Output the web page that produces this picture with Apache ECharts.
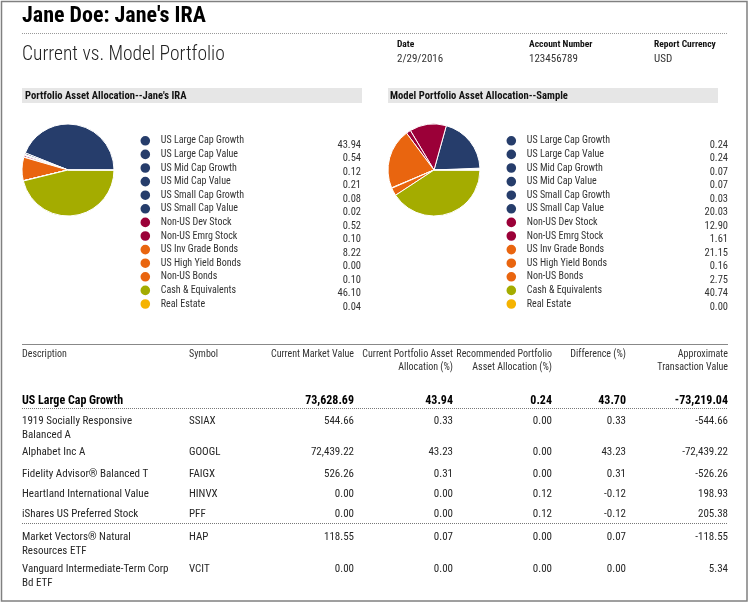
<!DOCTYPE html>
<html>
<head>
<meta charset="utf-8">
<script src="https://cdn.jsdelivr.net/npm/echarts@6/dist/echarts.min.js"></script>
<style>
  html, body { margin: 0; padding: 0; background: #fff; }
  #chart { width: 749px; height: 602px; }
</style>
</head>
<body>
<div id="chart"></div>
<script>
// ---------- data ----------
const categories = ['US Large Cap Growth','US Large Cap Value','US Mid Cap Growth','US Mid Cap Value','US Small Cap Growth','US Small Cap Value','Non-US Dev Stock','Non-US Emrg Stock','US Inv Grade Bonds','US High Yield Bonds','Non-US Bonds','Cash & Equivalents','Real Estate'];
const currentAllocation = [43.94,0.54,0.12,0.21,0.08,0.02,0.52,0.10,8.22,0.00,0.10,46.10,0.04];
const modelAllocation = [0.24,0.24,0.07,0.07,0.03,20.03,12.90,1.61,21.15,0.16,2.75,40.74,0.00];

const tableHeaders = [['Description'],['Symbol'],['Current Market Value'],['Current Portfolio Asset','Allocation (%)'],['Recommended Portfolio','Asset Allocation (%)'],['Difference (%)'],['Approximate','Transaction Value']];
const groupName = 'US Large Cap Growth';
const groupTotals = [73628.69, 43.94, 0.24, 43.70, -73219.04];
const holdingNames = [['1919 Socially Responsive','Balanced A'],['Alphabet Inc A'],['Fidelity Advisor® Balanced T'],['Heartland International Value'],['iShares US Preferred Stock'],['Market Vectors® Natural','Resources ETF'],['Vanguard Intermediate-Term Corp','Bd ETF']];
const holdingSymbols = ['SSIAX','GOOGL','FAIGX','HINVX','PFF','HAP','VCIT'];
const marketValues = [544.66, 72439.22, 526.26, 0.00, 0.00, 118.55, 0.00];
const currentPct = [0.33, 43.23, 0.31, 0.00, 0.00, 0.07, 0.00];
const recommendedPct = [0.00, 0.00, 0.00, 0.12, 0.12, 0.00, 0.00];
const differencePct = [0.33, 43.23, 0.31, -0.12, -0.12, 0.07, 0.00];
const transactionValues = [-544.66, -72439.22, -526.26, 198.93, 205.38, -118.55, 5.34];

// ---------- styles ----------
const NAVY = '#263d6b', MAROON = '#9b0038', ORANGE = '#e9650f', OLIVE = '#a4ac00', GOLD = '#f5b300';
const categoryColors = [NAVY,NAVY,NAVY,NAVY,NAVY,NAVY,MAROON,MAROON,ORANGE,ORANGE,ORANGE,OLIVE,GOLD];
const FONT = '"Roboto Condensed", "DejaVu Sans Condensed", sans-serif';
const TXT = '#262626';

const fmt = v => v.toLocaleString('en-US', {minimumFractionDigits: 2, maximumFractionDigits: 2});

function text(x, y, str, opt) {
  opt = opt || {};
  const align = opt.align || 'left';
  return {
    type: 'text', x: x, y: y, silent: true,
    style: {
      text: str, fill: opt.color || TXT,
      fontFamily: FONT, fontSize: opt.size || 12, fontWeight: opt.weight || 'normal',
      align: align, verticalAlign: 'middle', textAlign: align, textVerticalAlign: 'middle'
    }
  };
}
function line(x1, y1, x2, y2, dotted, color) {
  return {
    type: 'line', silent: true,
    shape: {x1: x1, y1: y1, x2: x2, y2: y2},
    style: {stroke: color || '#888', lineWidth: 1, lineDash: dotted ? [1, 1] : null}
  };
}

const g = [];
// frame
g.push({type: 'rect', silent: true, shape: {x: 1.5, y: 1.5, width: 745.5, height: 599.5}, style: {fill: 'none', stroke: '#808080', lineWidth: 1.5}});
// titles
g.push(text(22, 16, "Jane Doe: Jane's IRA", {size: 22, weight: 'bold', color: '#000'}));
g.push(line(22, 33.5, 728, 33.5, true, '#999'));
g.push(text(22, 55, 'Current vs. Model Portfolio', {size: 19.5, weight: 300, color: '#222'}));
// info block
const infoX = [397, 529, 654];
const infoLabels = ['Date', 'Account Number', 'Report Currency'];
const infoValues = ['2/29/2016', '123456789', 'USD'];
infoX.forEach((x, i) => {
  g.push(text(x, 45, infoLabels[i], {size: 9.5, weight: 'bold', color: '#111'}));
  g.push(text(x, 59, infoValues[i], {size: 11, color: '#333'}));
});
// section bars
g.push({type: 'rect', silent: true, shape: {x: 22, y: 88, width: 340, height: 15}, style: {fill: '#e6e6e6'}});
g.push({type: 'rect', silent: true, shape: {x: 388, y: 88, width: 330, height: 15}, style: {fill: '#e6e6e6'}});
g.push(text(25, 96, "Portfolio Asset Allocation--Jane's IRA", {size: 10.6, weight: 'bold', color: '#111'}));
g.push(text(390, 96, 'Model Portfolio Asset Allocation--Sample', {size: 10.6, weight: 'bold', color: '#111'}));
// legend values
currentAllocation.forEach((v, i) => g.push(text(361, 145 + i * 13.5, fmt(v), {size: 10.5, align: 'right', color: '#333'})));
modelAllocation.forEach((v, i) => g.push(text(728, 145 + i * 13.5, fmt(v), {size: 10.5, align: 'right', color: '#333'})));

// table
g.push(line(22, 344.5, 728, 344.5, false, '#888'));
const colX = [22, 189, 354, 453, 552, 626, 728];
const colAlign = ['left', 'left', 'right', 'right', 'right', 'right', 'right'];
tableHeaders.forEach((h, c) => h.forEach((ln, k) => g.push(text(colX[c], 354 + k * 13, ln, {size: 10, align: colAlign[c], color: '#333'}))));
g.push(text(22, 401, groupName, {size: 12, weight: 'bold', color: '#000'}));
groupTotals.forEach((v, i) => g.push(text(colX[i + 2], 401, fmt(v), {size: 12, weight: 'bold', color: '#000', align: 'right'})));
g.push(line(22, 408.5, 728, 408.5, true, '#777'));
const rowY = [421, 452, 474, 494, 514, 537, 569];
holdingNames.forEach((names, r) => {
  names.forEach((ln, k) => g.push(text(22, rowY[r] + k * 14, ln, {size: 11})));
  g.push(text(189, rowY[r], holdingSymbols[r], {size: 11}));
  [marketValues, currentPct, recommendedPct, differencePct, transactionValues].forEach((arr, c) => {
    g.push(text(colX[c + 2], rowY[r], fmt(arr[r]), {size: 11, align: 'right'}));
  });
});
g.push(line(22, 523.5, 728, 523.5, true, '#777'));

function pieData(values) {
  return categories.map((n, i) => ({name: n, value: values[i], itemStyle: {color: categoryColors[i]}}));
}
function legend(left) {
  return {
    data: categories, orient: 'vertical', left: left, top: 134,
    itemWidth: 21, itemHeight: 11.6, itemGap: 0, padding: 0, icon: 'circle',
    selectedMode: false,
    textStyle: {fontFamily: FONT, fontSize: 10, color: '#333'}
  };
}
const pieBase = {
  type: 'pie', radius: 46, startAngle: 0, clockwise: false,
  label: {show: false}, labelLine: {show: false}, silent: true,
  itemStyle: {borderColor: '#fff', borderWidth: 1},
  emphasis: {disabled: true}
};

const chart = echarts.init(document.getElementById('chart'), null, {renderer: 'canvas'});
chart.setOption({
  animation: false,
  legend: [legend(138.5), legend(504.5)],
  series: [
    Object.assign({}, pieBase, {name: 'Current', center: [68, 170], data: pieData(currentAllocation)}),
    Object.assign({}, pieBase, {name: 'Model', center: [434, 170], data: pieData(modelAllocation)})
  ],
  graphic: g
});
</script>
</body>
</html>
